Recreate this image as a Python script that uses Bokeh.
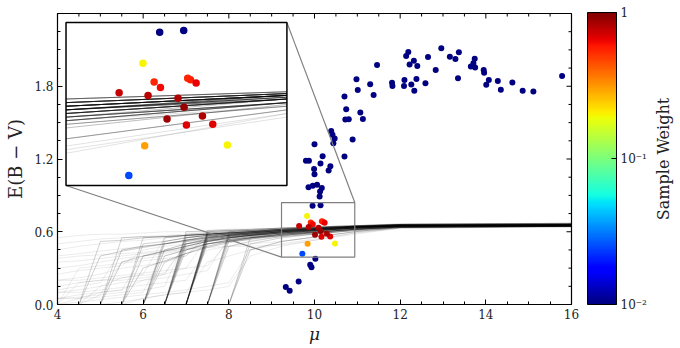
import numpy as np
from bokeh.plotting import figure
from bokeh.layouts import row
from bokeh.models import (ColumnDataSource, Range1d, FixedTicker,
                          PrintfTickFormatter, ColorBar, LogColorMapper)
from bokeh.transform import log_cmap
from bokeh.embed import file_html
from bokeh.resources import INLINE

# ---------------- layout constants (axes, zoom window and inset box) ----------------
X_RANGE = (4, 16)
Y_RANGE = (0, 2.4)
ZOOM_X = (9.23, 10.94)
ZOOM_Y = (0.391, 0.841)
INSET_X = (4.199, 9.356)
INSET_Y = (0.981, 2.325)

# ---------------- data: reddening profile samples ----------------
MU_NODES = [4.0, 4.5, 5.0, 5.5, 6.0, 6.5, 7.0, 7.5, 8.0, 8.5, ZOOM_X[0], ZOOM_X[1], 12.0, 16.0]

core_profiles = [
    [0, 0, 0, 0, 0, 0, 0, 0.58, 0.59, 0.60, 0.61, 0.64, 0.655, 0.66],
    [0, 0, 0, 0, 0, 0, 0, 0.55, 0.57, 0.58, 0.60, 0.63, 0.65, 0.655],
    [0, 0, 0, 0, 0, 0, 0, 0.60, 0.61, 0.61, 0.62, 0.645, 0.66, 0.665],
    [0, 0, 0, 0, 0, 0, 0, 0.52, 0.54, 0.56, 0.58, 0.62, 0.64, 0.645],
    [0, 0, 0, 0, 0, 0, 0, 0.57, 0.58, 0.59, 0.60, 0.635, 0.65, 0.66],
    [0, 0, 0, 0, 0, 0, 0, 0.54, 0.56, 0.57, 0.59, 0.63, 0.645, 0.65],
    [0, 0, 0, 0, 0, 0, 0, 0.59, 0.60, 0.61, 0.63, 0.65, 0.665, 0.67],
    [0, 0, 0, 0, 0, 0, 0, 0.56, 0.57, 0.58, 0.60, 0.64, 0.655, 0.66],
    [0, 0, 0, 0, 0, 0, 0, 0.50, 0.52, 0.54, 0.57, 0.62, 0.64, 0.645],
    [0, 0, 0, 0, 0, 0, 0, 0.58, 0.59, 0.59, 0.61, 0.64, 0.65, 0.655],
    [0, 0, 0, 0, 0, 0, 0, 0.53, 0.55, 0.57, 0.59, 0.63, 0.65, 0.655],
    [0, 0, 0, 0, 0, 0, 0, 0.61, 0.62, 0.62, 0.63, 0.65, 0.66, 0.665],
    [0, 0, 0, 0, 0, 0, 0.55, 0.57, 0.58, 0.59, 0.61, 0.64, 0.65, 0.655],
    [0, 0, 0, 0, 0, 0, 0.50, 0.53, 0.55, 0.57, 0.59, 0.63, 0.645, 0.65],
    [0, 0, 0, 0, 0, 0, 0.58, 0.59, 0.60, 0.61, 0.62, 0.645, 0.66, 0.665],
    [0, 0, 0, 0, 0, 0, 0.45, 0.50, 0.53, 0.55, 0.58, 0.62, 0.64, 0.645],
    [0, 0, 0, 0, 0, 0, 0.53, 0.56, 0.57, 0.58, 0.60, 0.635, 0.65, 0.655],
    [0, 0, 0, 0, 0, 0, 0.57, 0.58, 0.59, 0.60, 0.62, 0.645, 0.655, 0.66],
    [0, 0, 0, 0, 0, 0, 0.48, 0.52, 0.55, 0.57, 0.59, 0.63, 0.645, 0.65],
    [0, 0, 0, 0, 0, 0, 0.52, 0.55, 0.56, 0.58, 0.60, 0.64, 0.655, 0.66],
    [0, 0, 0, 0, 0, 0, 0.60, 0.60, 0.61, 0.62, 0.63, 0.65, 0.66, 0.67],
    [0, 0, 0, 0, 0, 0, 0, 0, 0.57, 0.59, 0.61, 0.64, 0.65, 0.655],
    [0, 0, 0, 0, 0, 0, 0, 0, 0.52, 0.55, 0.58, 0.62, 0.64, 0.645],
    [0, 0, 0, 0, 0, 0, 0, 0, 0.60, 0.61, 0.62, 0.645, 0.66, 0.665],
    [0, 0, 0, 0, 0, 0, 0, 0, 0.48, 0.52, 0.56, 0.61, 0.635, 0.645],
    [0, 0, 0, 0, 0, 0, 0, 0, 0.55, 0.57, 0.60, 0.635, 0.65, 0.655],
    [0, 0, 0, 0, 0, 0, 0, 0, 0.58, 0.60, 0.61, 0.64, 0.655, 0.66],
    [0, 0, 0, 0, 0, 0.45, 0.50, 0.54, 0.56, 0.58, 0.60, 0.635, 0.65, 0.655],
    [0, 0, 0, 0, 0, 0.52, 0.55, 0.57, 0.58, 0.59, 0.61, 0.64, 0.65, 0.66],
    [0, 0, 0, 0, 0, 0.40, 0.45, 0.50, 0.53, 0.56, 0.59, 0.63, 0.645, 0.65],
    [0, 0, 0, 0, 0, 0.55, 0.57, 0.58, 0.59, 0.60, 0.62, 0.645, 0.655, 0.66],
    [0, 0, 0, 0, 0, 0.35, 0.42, 0.48, 0.52, 0.55, 0.57, 0.62, 0.64, 0.645],
    [0, 0, 0, 0, 0, 0.50, 0.53, 0.56, 0.57, 0.58, 0.60, 0.64, 0.655, 0.66],
    [0, 0, 0, 0, 0.40, 0.44, 0.48, 0.52, 0.55, 0.57, 0.59, 0.63, 0.645, 0.65],
    [0, 0, 0, 0, 0.50, 0.52, 0.55, 0.57, 0.58, 0.59, 0.61, 0.64, 0.65, 0.66],
    [0, 0, 0, 0, 0.30, 0.36, 0.42, 0.47, 0.51, 0.54, 0.57, 0.62, 0.64, 0.645],
    [0, 0, 0, 0, 0.55, 0.56, 0.57, 0.58, 0.59, 0.60, 0.62, 0.645, 0.655, 0.66],
    [0, 0, 0, 0.45, 0.48, 0.50, 0.53, 0.55, 0.57, 0.59, 0.61, 0.64, 0.65, 0.655],
    [0, 0, 0, 0.35, 0.40, 0.44, 0.48, 0.52, 0.55, 0.57, 0.60, 0.635, 0.65, 0.655],
    [0, 0, 0, 0.55, 0.56, 0.56, 0.57, 0.58, 0.59, 0.60, 0.62, 0.645, 0.66, 0.665],
    [0, 0, 0.40, 0.44, 0.47, 0.50, 0.53, 0.55, 0.57, 0.59, 0.61, 0.64, 0.65, 0.655],
    [0, 0, 0.52, 0.53, 0.55, 0.56, 0.57, 0.58, 0.59, 0.60, 0.62, 0.645, 0.655, 0.66],
    [0, 0, 0, 0, 0, 0, 0, 0, 0, 0.55, 0.58, 0.63, 0.645, 0.65],
    [0, 0, 0, 0, 0, 0, 0, 0, 0, 0.45, 0.52, 0.60, 0.635, 0.645],
    [0, 0, 0, 0, 0, 0, 0, 0, 0, 0.50, 0.55, 0.615, 0.64, 0.65],
]

faint_profiles = [
    [0, 0.05, 0.10, 0.12, 0.20, 0.25, 0.30, 0.55, 0.57, 0.58, 0.60, 0.63, 0.645, 0.65],
    [0.10, 0.12, 0.15, 0.22, 0.25, 0.55, 0.57, 0.58, 0.59, 0.60, 0.61, 0.64, 0.65, 0.655],
    [0.20, 0.22, 0.25, 0.30, 0.32, 0.35, 0.40, 0.58, 0.59, 0.60, 0.61, 0.64, 0.65, 0.655],
    [0.05, 0.06, 0.08, 0.35, 0.38, 0.40, 0.45, 0.48, 0.52, 0.55, 0.58, 0.62, 0.64, 0.645],
    [0.30, 0.32, 0.35, 0.38, 0.40, 0.42, 0.45, 0.50, 0.52, 0.53, 0.56, 0.61, 0.635, 0.645],
    [0, 0, 0.15, 0.18, 0.20, 0.22, 0.25, 0.28, 0.55, 0.57, 0.60, 0.63, 0.645, 0.65],
    [0.45, 0.48, 0.50, 0.52, 0.53, 0.55, 0.56, 0.57, 0.58, 0.59, 0.60, 0.63, 0.65, 0.655],
    [0.55, 0.57, 0.58, 0.58, 0.59, 0.60, 0.60, 0.61, 0.61, 0.62, 0.63, 0.65, 0.66, 0.665],
    [0, 0.02, 0.04, 0.06, 0.08, 0.10, 0.12, 0.15, 0.18, 0.45, 0.52, 0.60, 0.635, 0.645],
    [0.15, 0.18, 0.20, 0.20, 0.22, 0.25, 0.50, 0.53, 0.55, 0.56, 0.58, 0.62, 0.64, 0.65],
    [0.25, 0.28, 0.30, 0.32, 0.45, 0.48, 0.50, 0.52, 0.54, 0.55, 0.57, 0.61, 0.635, 0.645],
    [0, 0, 0, 0, 0.05, 0.08, 0.10, 0.12, 0.15, 0.40, 0.48, 0.59, 0.63, 0.64],
    [0.35, 0.36, 0.38, 0.40, 0.42, 0.44, 0.46, 0.47, 0.48, 0.48, 0.49, 0.58, 0.63, 0.64],
    [0.10, 0.10, 0.12, 0.14, 0.16, 0.18, 0.20, 0.45, 0.48, 0.50, 0.52, 0.60, 0.635, 0.645],
    [0.50, 0.52, 0.54, 0.55, 0.56, 0.57, 0.58, 0.58, 0.59, 0.60, 0.61, 0.64, 0.655, 0.66],
    [0.05, 0.08, 0.10, 0.12, 0.40, 0.43, 0.46, 0.50, 0.53, 0.55, 0.57, 0.62, 0.64, 0.65],
    [0.40, 0.42, 0.44, 0.46, 0.48, 0.50, 0.52, 0.53, 0.54, 0.55, 0.56, 0.61, 0.635, 0.645],
    [0, 0, 0.08, 0.10, 0.12, 0.15, 0.55, 0.57, 0.58, 0.59, 0.61, 0.64, 0.65, 0.655],
    [0.20, 0.20, 0.22, 0.24, 0.26, 0.28, 0.30, 0.32, 0.52, 0.55, 0.58, 0.62, 0.64, 0.65],
    [0, 0.30, 0.32, 0.34, 0.36, 0.38, 0.40, 0.55, 0.57, 0.58, 0.60, 0.63, 0.645, 0.65],
    [0.05, 0.05, 0.06, 0.08, 0.10, 0.45, 0.50, 0.54, 0.56, 0.57, 0.59, 0.63, 0.645, 0.65],
    [0.12, 0.15, 0.18, 0.45, 0.48, 0.50, 0.52, 0.54, 0.56, 0.57, 0.59, 0.63, 0.645, 0.65],
    [0, 0, 0, 0.02, 0.05, 0.08, 0.10, 0.35, 0.40, 0.45, 0.50, 0.59, 0.63, 0.64],
    [0.38, 0.40, 0.41, 0.42, 0.43, 0.45, 0.47, 0.50, 0.53, 0.55, 0.57, 0.62, 0.64, 0.645],
    [0, 0.18, 0.20, 0.22, 0.24, 0.26, 0.50, 0.53, 0.55, 0.57, 0.59, 0.63, 0.645, 0.65],
]

# ---------------- data: stars ----------------
star_mu = [
    9.33, 9.42, 9.63, 9.90, 9.93, 10.02,
    9.955, 10.141,
    9.86, 9.96, 10.06, 10.17, 10.13, 10.12,
    9.80, 9.87, 10.00, 9.99, 10.00, 10.14, 10.19, 10.33, 10.37, 10.39, 10.42, 10.47, 10.44,
    10.70, 10.89, 10.72, 10.80, 10.74, 10.70, 11.01, 10.98, 11.07, 11.13, 11.30, 11.38, 11.46, 11.81, 11.82,
    12.10, 12.09, 12.19, 12.14, 12.22, 12.32, 12.40, 12.38, 12.26, 12.33, 12.59, 12.65, 12.83, 12.96,
    13.16, 13.29, 13.37, 13.35, 13.65, 13.74, 13.71, 13.75, 13.95, 13.96, 14.07, 14.01, 14.28, 14.35,
    14.62, 14.86, 15.11, 15.78,
    9.826, 9.912, 9.961, 9.641, 9.865, 10.172, 10.193, 10.237, 10.097, 10.144, 10.012, 10.286,
    10.162, 10.366, 9.839, 10.479, 9.716,
]
star_ebv = [
    0.145, 0.113, 0.19, 0.327, 0.308, 0.377,
    0.814, 0.819,
    0.968, 0.979, 0.987, 0.96, 0.932, 0.89,
    1.185, 1.185, 1.322, 1.117, 1.075, 1.163, 1.223, 1.105, 1.14, 1.43, 1.40, 1.37, 1.33,
    1.22, 1.36, 1.525, 1.528, 1.61, 1.715, 1.77, 1.858, 1.583, 1.53, 1.817, 1.728, 1.976, 1.828, 1.803,
    1.852, 1.802, 2.083, 2.05, 1.98, 2.01, 1.968, 1.86, 1.815, 1.763, 1.825, 2.042, 1.935, 2.114,
    2.043, 2.024, 2.08, 1.867, 1.962, 2.026, 1.99, 1.954, 1.935, 1.912, 1.852, 1.813, 1.844, 1.772,
    1.83, 1.762, 1.756, 1.885,
    0.729, 0.677, 0.662, 0.647, 0.640, 0.687, 0.683, 0.674, 0.632, 0.607, 0.575, 0.583,
    0.558, 0.560, 0.501, 0.503, 0.419,
]
star_w = [
    0.01, 0.01, 0.01, 0.01, 0.01, 0.01,
    0.01, 0.01,
    0.01, 0.01, 0.01, 0.01, 0.01, 0.01,
    0.01, 0.01, 0.01, 0.01, 0.01, 0.01, 0.01, 0.01, 0.01, 0.01, 0.01, 0.01, 0.01,
    0.01, 0.01, 0.01, 0.01, 0.01, 0.01, 0.01, 0.01, 0.01, 0.01, 0.01, 0.01, 0.01, 0.01, 0.01,
    0.01, 0.01, 0.01, 0.01, 0.01, 0.01, 0.01, 0.01, 0.01, 0.01, 0.01, 0.01, 0.01, 0.01,
    0.01, 0.01, 0.01, 0.01, 0.01, 0.01, 0.01, 0.01, 0.01, 0.01, 0.01, 0.01, 0.01, 0.01,
    0.01, 0.01, 0.01, 0.01,
    0.20, 0.55, 0.63, 0.74, 0.79, 0.55, 0.57, 0.65, 0.83, 0.90, 0.88, 0.83,
    0.68, 0.68, 0.30, 0.20, 0.025,
]

x_ticks = [4, 6, 8, 10, 12, 14, 16]
x_minor = [4.5, 5, 5.5, 6.5, 7, 7.5, 8.5, 9, 9.5, 10.5, 11, 11.5, 12.5, 13, 13.5, 14.5, 15, 15.5]
y_ticks = [0.0, 0.6, 1.2, 1.8]
y_minor = [0.15, 0.3, 0.45, 0.75, 0.9, 1.05, 1.35, 1.5, 1.65, 1.95, 2.1, 2.25, 2.4]
cbar_ticks = [0.01, 0.1, 1]
cbar_labels = {0.01: "10\u207b\u00b2", 0.1: "10\u207b\u00b9", 1: "1"}

# ---------------- jet colormap ----------------
def jet(n=256):
    t = np.linspace(0, 1, n)
    r = np.interp(t, [0, 0.35, 0.66, 0.89, 1], [0, 0, 1, 1, 0.5])
    g = np.interp(t, [0, 0.125, 0.375, 0.64, 0.91, 1], [0, 0, 1, 1, 0, 0])
    b = np.interp(t, [0, 0.11, 0.34, 0.65, 1], [0.5, 1, 1, 0, 0])
    return ["#%02x%02x%02x" % (int(round(255 * a)), int(round(255 * c)), int(round(255 * d)))
            for a, c, d in zip(r, g, b)]

JET = jet()
FONT = "DejaVu Serif"
TXT = "#222222"

p = figure(frame_width=514, frame_height=291,
           x_range=Range1d(*X_RANGE), y_range=Range1d(*Y_RANGE),
           output_backend="svg", toolbar_location=None,
           min_border_left=57, min_border_top=13, min_border_bottom=38, min_border_right=75,
           background_fill_color="white", border_fill_color="white")
p.grid.visible = False
p.outline_line_color = "black"
p.outline_line_width = 1.2

xt = FixedTicker(ticks=x_ticks, minor_ticks=x_minor)
yt = FixedTicker(ticks=y_ticks, minor_ticks=y_minor)


def style_axis(ax):
    ax.major_tick_in = 5
    ax.major_tick_out = 0
    ax.minor_tick_in = 3
    ax.minor_tick_out = 0
    ax.major_tick_line_color = "black"
    ax.minor_tick_line_color = "black"
    ax.axis_line_color = "black"
    ax.major_label_text_font = FONT
    ax.major_label_text_font_size = "12px"
    ax.major_label_text_color = TXT


xa = p.xaxis[0]
xa.ticker = xt
xa.formatter = PrintfTickFormatter(format="%d")
style_axis(xa)
xa.major_label_standoff = 4
xa.axis_label = "\u03bc"
xa.axis_label_text_font = FONT
xa.axis_label_text_font_style = "italic"
xa.axis_label_text_font_size = "17px"
xa.axis_label_text_color = TXT
xa.axis_label_standoff = 2

ya = p.yaxis[0]
ya.ticker = yt
ya.formatter = PrintfTickFormatter(format="%.1f")
style_axis(ya)
ya.major_label_standoff = 4
ya.axis_label = "E(B \u2212 V)"
ya.axis_label_text_font = FONT
ya.axis_label_text_font_style = "normal"
ya.axis_label_text_font_size = "18px"
ya.axis_label_text_color = TXT
ya.axis_label_standoff = 5

# inward ticks on the top and right edges of the frame
p.ray(x=x_ticks, y=[Y_RANGE[1]] * len(x_ticks), length=5, length_units="screen",
      angle=-90, angle_units="deg", line_color="black", line_width=1)
p.ray(x=x_minor, y=[Y_RANGE[1]] * len(x_minor), length=3, length_units="screen",
      angle=-90, angle_units="deg", line_color="black", line_width=1)
p.ray(x=[X_RANGE[1]] * len(y_ticks), y=y_ticks, length=5, length_units="screen",
      angle=180, angle_units="deg", line_color="black", line_width=1)
p.ray(x=[X_RANGE[1]] * len(y_minor), y=y_minor, length=3, length_units="screen",
      angle=180, angle_units="deg", line_color="black", line_width=1)

mapper = LogColorMapper(palette=JET, low=0.01, high=1)
cbar = ColorBar(color_mapper=mapper, ticker=FixedTicker(ticks=cbar_ticks),
                major_label_overrides=cbar_labels,
                width=29, height=292, padding=0, margin=0, location=(16, 0),
                bar_line_color="black", bar_line_width=1,
                major_tick_line_color="black", major_tick_in=5, major_tick_out=0,
                minor_tick_line_color=None, label_standoff=4,
                major_label_text_font=FONT, major_label_text_font_size="12px",
                major_label_text_color=TXT,
                background_fill_color=None, border_line_color=None)
p.add_layout(cbar, "right")

# ---------------- main panel ----------------
n_core = len(core_profiles)
n_faint = len(faint_profiles)
all_profiles = faint_profiles + core_profiles
alphas = [0.08] * n_faint + [0.18] * n_core
line_src = ColumnDataSource(dict(xs=[MU_NODES] * len(all_profiles), ys=all_profiles, a=alphas))
p.multi_line(xs="xs", ys="ys", line_alpha="a", line_color="black", line_width=1, source=line_src)

order = sorted(range(len(star_mu)), key=lambda i: star_w[i])
star_src = ColumnDataSource(dict(x=[star_mu[i] for i in order], y=[star_ebv[i] for i in order],
                                 w=[star_w[i] for i in order]))
cmap = log_cmap("w", JET, 0.01, 1)
p.scatter(x="x", y="y", size=6, fill_color=cmap, line_color=None, source=star_src)

# zoom window and connectors
p.quad(left=[ZOOM_X[0]], right=[ZOOM_X[1]], bottom=[ZOOM_Y[0]], top=[ZOOM_Y[1]],
       fill_color=None, line_color="#808080", line_width=1.2)
p.segment(x0=[INSET_X[0], INSET_X[1]], y0=[INSET_Y[0], INSET_Y[1]],
          x1=[ZOOM_X[0], ZOOM_X[1]], y1=[ZOOM_Y[0], ZOOM_Y[1]],
          line_color="#808080", line_width=1.2)

# ---------------- inset ----------------
p.quad(left=[INSET_X[0]], right=[INSET_X[1]], bottom=[INSET_Y[0]], top=[INSET_Y[1]],
       fill_color="white", line_color=None)

inset = p.subplot(x_source=Range1d(*ZOOM_X), y_source=Range1d(*ZOOM_Y),
                  x_target=Range1d(*INSET_X), y_target=Range1d(*INSET_Y))

i0, i1 = MU_NODES.index(ZOOM_X[0]), MU_NODES.index(ZOOM_X[1])
inset_src = ColumnDataSource(dict(xs=[MU_NODES[i0:i1 + 1]] * len(all_profiles),
                                  ys=[pr[i0:i1 + 1] for pr in all_profiles],
                                  a=[min(1.0, 1.4 * a) for a in alphas]))
inset.multi_line(xs="xs", ys="ys", line_alpha="a", line_color="black", line_width=1, source=inset_src)

sel = [i for i in order if ZOOM_X[0] <= star_mu[i] <= ZOOM_X[1] and ZOOM_Y[0] <= star_ebv[i] <= ZOOM_Y[1]]
inset_star_src = ColumnDataSource(dict(x=[star_mu[i] for i in sel], y=[star_ebv[i] for i in sel],
                                       w=[star_w[i] for i in sel]))
inset.scatter(x="x", y="y", size=7.5, fill_color=cmap, line_color=None, source=inset_star_src)

p.quad(left=[INSET_X[0]], right=[INSET_X[1]], bottom=[INSET_Y[0]], top=[INSET_Y[1]],
       fill_color=None, line_color="black", line_width=1.5)

# ---------------- colour bar title (a narrow companion figure, its left axis label) ----------------
p_lab = figure(frame_width=1, frame_height=291, x_range=Range1d(0, 1), y_range=Range1d(0, 1),
               output_backend="svg", toolbar_location=None,
               min_border_left=25, min_border_right=0, min_border_top=13, min_border_bottom=38,
               background_fill_color="white", border_fill_color="white")
p_lab.outline_line_color = None
p_lab.grid.visible = False
p_lab.xaxis.visible = False
la = p_lab.yaxis[0]
la.ticker = FixedTicker(ticks=[])
la.axis_line_color = None
la.major_tick_line_color = None
la.minor_tick_line_color = None
la.axis_label = "Sample Weight"
la.axis_label_text_font = FONT
la.axis_label_text_font_size = "16px"
la.axis_label_text_font_style = "normal"
la.axis_label_text_color = TXT
la.axis_label_standoff = 2

layout = row(p, p_lab)
open("out.html", "w").write(file_html(layout, INLINE))
